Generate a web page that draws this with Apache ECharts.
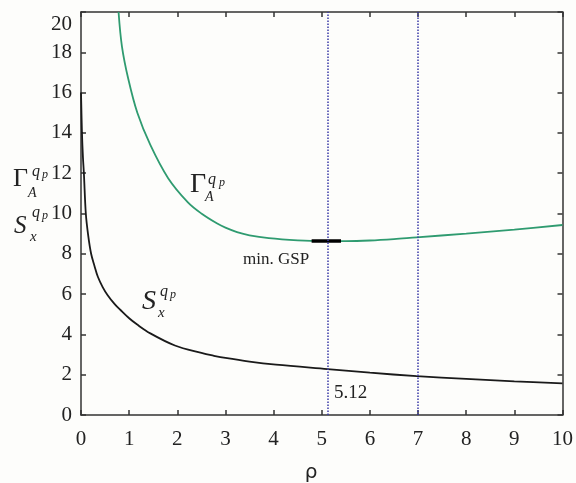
<!DOCTYPE html>
<html>
<head>
<meta charset="utf-8">
<script src="https://cdn.jsdelivr.net/npm/echarts@6/dist/echarts.min.js"></script>
<style>
  html, body { margin: 0; padding: 0; background: #fdfdfb; }
  #chart { width: 576px; height: 483px; }
</style>
</head>
<body>
<div id="chart"></div>
<script>
// Γ_A^{q_p} curve (green)
const rhoGamma = [0.78, 0.85, 0.98, 1.17, 1.44, 1.81, 2.22, 2.5, 2.83, 3.0, 3.24, 3.5, 3.9, 4.5, 5.0, 5.5, 6.0, 6.5, 6.97, 8.0, 9.0, 10.0];
const gammaVals = [20.0, 18.3, 16.7, 15.0, 13.4, 11.75, 10.55, 10.0, 9.5, 9.3, 9.08, 8.92, 8.78, 8.67, 8.63, 8.63, 8.66, 8.73, 8.82, 9.0, 9.2, 9.43];

// S_x^{q_p} curve (black)
const rhoS = [0, 0.02, 0.04, 0.06, 0.1, 0.15, 0.21, 0.28, 0.35, 0.45, 0.55, 0.7, 0.82, 1.0, 1.16, 1.44, 1.95, 2.5, 2.76, 3.0, 3.5, 4.05, 5.12, 6.0, 6.97, 8.0, 9.0, 10.0];
const sVals = [16.0, 14.0, 12.8, 12.0, 10.0, 8.9, 8.0, 7.4, 6.86, 6.35, 5.96, 5.5, 5.21, 4.8, 4.5, 4.05, 3.45, 3.08, 2.94, 2.83, 2.65, 2.5, 2.28, 2.1, 1.93, 1.79, 1.67, 1.57];

// min. GSP segment and marker lines
const gspRho = [4.79, 5.4];
const gspVal = [8.63, 8.63];
const markerRho = [5.12, 7];

const xTicks = [0, 10, 1];
const yTicks = [0, 20, 2];

const zip = (a, b) => a.map((v, i) => [v, b[i]]);

const serif = '"Liberation Serif", "DejaVu Serif", serif';
const axisColor = '#333';

const chart = echarts.init(document.getElementById('chart'));

function txt(x, y, text, size, italic) {
    return {
        type: 'text',
        style: {
            x: x, y: y, text: text,
            font: (italic ? 'italic ' : '') + size + 'px ' + serif,
            fill: '#222',
            textAlign: 'left',
            textVerticalAlign: 'middle'
        }
    };
}

const lineCommon = { onZero: false, lineStyle: { color: axisColor, width: 1.5 } };
const tickCommon = { show: true, inside: true, length: 5, lineStyle: { color: axisColor, width: 1.5 } };

const option = {
    backgroundColor: '#fdfdfb',
    animation: false,
    grid: { left: 81, right: 4, top: 12, bottom: 68 },
    xAxis: [{
        type: 'value', min: xTicks[0], max: xTicks[1], interval: xTicks[2],
        axisLine: lineCommon,
        axisTick: tickCommon,
        axisLabel: { fontFamily: serif, fontSize: 21, color: '#222', margin: 14 },
        splitLine: { show: false }
    }, {
        type: 'value', position: 'top', min: xTicks[0], max: xTicks[1], interval: xTicks[2],
        axisLine: lineCommon,
        axisTick: tickCommon,
        axisLabel: { show: false },
        splitLine: { show: false }
    }],
    yAxis: [{
        type: 'value', min: yTicks[0], max: yTicks[1], interval: yTicks[2],
        axisLine: Object.assign({ show: true }, lineCommon),
        axisTick: tickCommon,
        axisLabel: {
            fontFamily: serif, fontSize: 21, color: '#222', margin: 9,
            formatter: v => v === 20 ? '{t|20}' : String(v),
            rich: { t: { fontFamily: serif, fontSize: 21, color: '#222', padding: [24, 0, 0, 0] } }
        },
        splitLine: { show: false }
    }, {
        type: 'value', position: 'right', min: yTicks[0], max: yTicks[1], interval: yTicks[2],
        axisLine: Object.assign({ show: true }, lineCommon),
        axisTick: tickCommon,
        axisLabel: { show: false },
        splitLine: { show: false }
    }],
    series: [{
        type: 'line',
        data: zip(rhoGamma, gammaVals),
        showSymbol: false,
        smooth: 0.35,
        lineStyle: { color: '#2f9b70', width: 1.8 },
        markLine: {
            silent: true,
            symbol: 'none',
            label: { show: false },
            lineStyle: { color: '#3a3aa8', type: 'dotted', width: 1.5 },
            data: markerRho.map(v => ({ xAxis: v }))
        }
    }, {
        type: 'line',
        data: zip(rhoS, sVals),
        showSymbol: false,
        smooth: 0.35,
        lineStyle: { color: '#1a1a1a', width: 1.8 }
    }, {
        type: 'line',
        data: zip(gspRho, gspVal),
        showSymbol: false,
        lineStyle: { color: '#000', width: 3.5 }
    }],
    graphic: [
        // axis-side labels
        txt(13, 179, 'Γ', 26, false),
        txt(32, 172, 'q', 16, true),
        txt(42, 175, 'p', 12, true),
        txt(28, 193, 'A', 14, true),
        txt(14, 226, 'S', 25, true),
        txt(32, 213, 'q', 16, true),
        txt(42, 216, 'p', 12, true),
        txt(30, 237, 'x', 15, true),
        // in-plot labels
        txt(190, 185, 'Γ', 28, false),
        txt(208, 180, 'q', 16, true),
        txt(219, 183, 'p', 12, true),
        txt(205, 197, 'A', 14, true),
        txt(142, 302, 'S', 28, true),
        txt(160, 292, 'q', 16, true),
        txt(170, 295, 'p', 12, true),
        txt(158, 313, 'x', 15, true),
        txt(243, 260, 'min. GSP', 17, false),
        txt(334, 393, '5.12', 19, false),
        {
            type: 'text',
            style: {
                x: 311, y: 473, text: 'ρ',
                font: '20px "DejaVu Sans", sans-serif', fill: '#222',
                textAlign: 'center', textVerticalAlign: 'middle'
            }
        }
    ]
};

chart.setOption(option);
</script>
</body>
</html>
